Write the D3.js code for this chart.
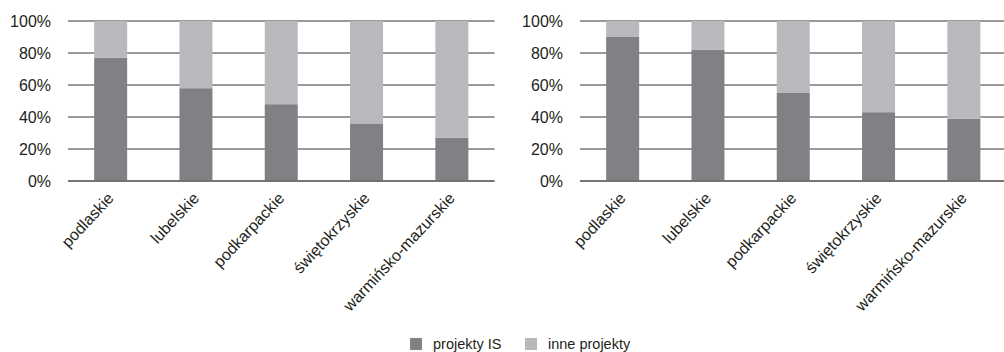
<!DOCTYPE html>
<html>
<head>
<meta charset="utf-8">
<script src="https://cdn.jsdelivr.net/npm/d3@7"></script>
<style>
  body { margin: 0; background: #fff; }
  text { font-family: "Liberation Sans", Arial, sans-serif; fill: #231f20; }
</style>
</head>
<body>
<div id="plot"></div>
<script>
let regions = ["podlaskie", "lubelskie", "podkarpackie", "świętokrzyskie", "warmińsko-mazurskie"]
let leftIS = [77, 58, 48, 36, 27]
let rightIS = [90, 82, 55, 43, 39]
let yTicks = [0, 20, 40, 60, 80, 100]
let seriesNames = ["projekty IS", "inne projekty"]
let seriesColors = ["#808185", "#b8b9bc"]

let svgWidth = 1004
let svgHeight = 352

let svg = d3.select("#plot")
  .append("svg")
  .attr("width", svgWidth)
  .attr("height", svgHeight)

let yScale = d3.scaleLinear()
  .domain([0, 100])
  .range([181, 21])

function drawPanel(x0, x1, values) {
  let xScale = d3.scaleBand()
    .domain(regions)
    .range([x0, x1])
    .paddingInner(0.613)
    .paddingOuter(0.3065)

  let g = svg.append("g")

  // gridlines
  g.selectAll(".grid")
    .data(yTicks)
    .enter()
    .append("line")
    .attr("x1", x0)
    .attr("x2", x1)
    .attr("y1", d => yScale(d))
    .attr("y2", d => yScale(d))
    .attr("stroke", "#7a7a7a")
    .attr("stroke-width", 1.4)

  let rows = regions.map((r, i) => ({region: r, is: values[i], other: 100 - values[i]}))

  g.selectAll(".barIS")
    .data(rows)
    .enter()
    .append("rect")
    .attr("x", d => xScale(d.region))
    .attr("width", xScale.bandwidth())
    .attr("y", d => yScale(d.is))
    .attr("height", d => yScale(0) - yScale(d.is))
    .attr("fill", seriesColors[0])

  g.selectAll(".barOther")
    .data(rows)
    .enter()
    .append("rect")
    .attr("x", d => xScale(d.region))
    .attr("width", xScale.bandwidth())
    .attr("y", d => yScale(100))
    .attr("height", d => yScale(d.is) - yScale(100))
    .attr("fill", seriesColors[1])

  // baseline
  g.append("line")
    .attr("x1", x0)
    .attr("x2", x1)
    .attr("y1", yScale(0))
    .attr("y2", yScale(0))
    .attr("stroke", "#6a6a6a")
    .attr("stroke-width", 1.4)

  let yAxis = d3.axisLeft(yScale)
    .tickValues(yTicks)
    .tickSize(0)
    .tickPadding(17)
    .tickFormat(d => d + "%")

  let ya = g.append("g")
    .attr("transform", `translate(${x0}, 0)`)
    .call(yAxis)
  ya.select(".domain").remove()
  ya.selectAll("text")
    .style("font-size", "16px")
    .style("font-family", "'Liberation Sans', Arial, sans-serif")
    .attr("fill", "#231f20")

  g.selectAll(".xlab")
    .data(regions)
    .enter()
    .append("text")
    .attr("text-anchor", "end")
    .attr("transform", d => `translate(${xScale(d) + xScale.bandwidth() / 2 + 4}, ${yScale(0) + 18}) rotate(-47)`)
    .style("font-size", "16px")
    .text(d => d)
}

drawPanel(68, 494.5, leftIS)
drawPanel(580, 1006.5, rightIS)

// legend
let legend = svg.append("g")
let legendX = [410, 525]
seriesNames.forEach(function(name, i) {
  legend.append("rect")
    .attr("x", legendX[i])
    .attr("y", 338)
    .attr("width", 12)
    .attr("height", 12)
    .attr("fill", seriesColors[i])
  legend.append("text")
    .attr("x", legendX[i] + 23)
    .attr("y", 349)
    .style("font-size", "14.5px")
    .text(name)
})
</script>
</body>
</html>
